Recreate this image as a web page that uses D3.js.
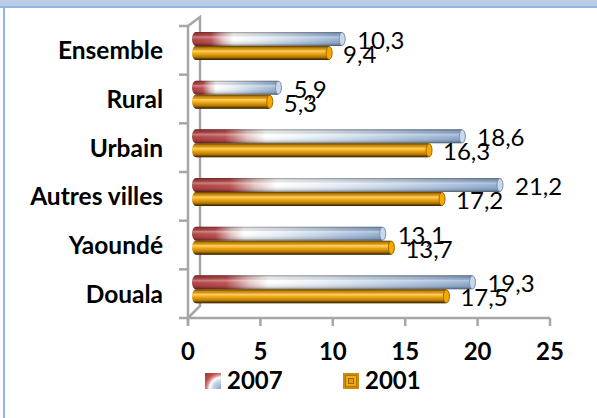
<!DOCTYPE html>
<html><head><meta charset="utf-8">
<script src="https://cdn.jsdelivr.net/npm/d3@7"></script>
<style>body{margin:0;background:#fff;}svg{display:block;}</style>
</head><body>
<script>
const categories = ["Ensemble","Rural","Urbain","Autres villes","Yaoundé","Douala"];
const series = ["2007","2001"];
const values2007 = [10.3,5.9,18.6,21.2,13.1,19.3];
const values2001 = [9.4,5.3,16.3,17.2,13.7,17.5];
const labels2007 = ["10,3","5,9","18,6","21,2","13,1","19,3"];
const labels2001 = ["9,4","5,3","16,3","17,2","13,7","17,5"];
const xTicks = [0,5,10,15,20,25];

const W=597,H=418;
const svg=d3.select("body").append("svg").attr("width",W).attr("height",H);
const defs=svg.append("defs");
const FONT="Lato, 'Open Sans', sans-serif";

// gradients
const g1=defs.append("linearGradient").attr("id","g2007").attr("x1",0).attr("x2",1).attr("y1",0).attr("y2",0);
[[0,"#a93a38"],[0.12,"#b9494a"],[0.2,"#e2c0c0"],[0.27,"#ffffff"],[0.45,"#e6eef7"],[1,"#88a6cc"]].forEach(d=>g1.append("stop").attr("offset",d[0]).attr("stop-color",d[1]));
const sh=defs.append("linearGradient").attr("id","shade").attr("x1",0).attr("x2",0).attr("y1",0).attr("y2",1);
[[0,"#000",0.4],[0.15,"#000",0.08],[0.35,"#fff",0.35],[0.55,"#fff",0.05],[0.85,"#000",0.15],[1,"#000",0.5]].forEach(d=>sh.append("stop").attr("offset",d[0]).attr("stop-color",d[1]).attr("stop-opacity",d[2]));
const g2=defs.append("linearGradient").attr("id","g2001").attr("x1",0).attr("x2",0).attr("y1",0).attr("y2",1);
[[0,"#a06800"],[0.15,"#dc9400"],[0.35,"#ffb618"],[0.55,"#eea000"],[0.8,"#c08000"],[1,"#634000"]].forEach(d=>g2.append("stop").attr("offset",d[0]).attr("stop-color",d[1]));
const lg=defs.append("radialGradient").attr("id","leg2007").attr("cx",1).attr("cy",1).attr("r",1.3).attr("fx",1).attr("fy",1);
[[0,"#7fa2cc"],[0.4,"#c9d9ec"],[0.55,"#ffffff"],[0.68,"#d88a88"],[0.8,"#c0504d"],[1,"#a33c3a"]].forEach(d=>lg.append("stop").attr("offset",d[0]).attr("stop-color",d[1]));

// frame
svg.append("rect").attr("x",0).attr("y",0).attr("width",W).attr("height",6).attr("fill","#b9cde5");
svg.append("rect").attr("x",0).attr("y",6).attr("width",W).attr("height",2).attr("fill","#8eb4e3");
svg.append("rect").attr("x",3).attr("y",6).attr("width",2).attr("height",H-6).attr("fill","#8eb4e3");

// scales
const x=d3.scaleLinear().domain([0,25]).range([188,550]);
const y=d3.scaleBand().domain(categories).range([26,318]).padding(0);
const depth=8;
const barH=14, barOff=6;

// axes lines
const axisCol="#a6a6a6";
const ax=svg.append("g").attr("stroke",axisCol).attr("stroke-width",2.5).attr("fill","none");
ax.append("path").attr("d",`M188,${y.range()[0]}L200,17L200,306L188,318`);
ax.append("line").attr("x1",188).attr("x2",188).attr("y1",26).attr("y2",326);
ax.append("line").attr("x1",188).attr("x2",x(25)).attr("y1",318).attr("y2",318);
const catTicks=categories.map(c=>y(c)).concat([318]);
catTicks.forEach(t=>ax.append("line").attr("x1",179).attr("x2",188).attr("y1",t).attr("y2",t));
xTicks.forEach(t=>ax.append("line").attr("x1",x(t)).attr("x2",x(t)).attr("y1",318).attr("y2",326));

// x tick labels
svg.append("g").selectAll("text").data(xTicks).join("text")
 .attr("x",d=>x(d)).attr("y",360).attr("text-anchor","middle")
 .attr("font-family",FONT).attr("font-weight","bold").attr("font-size",24).attr("fill","#000").text(d=>d);

// category labels
svg.append("g").selectAll("text").data(categories).join("text")
 .attr("x",163).attr("y",d=>y(d)+y.bandwidth()/2+9).attr("text-anchor","end")
 .attr("font-family",FONT).attr("font-weight","bold").attr("font-size",24.5).attr("fill","#000").text(d=>d);

// bars
function drawBar(g,x0,x1,yt,fill,capFill,capStroke){
  const w=x1-x0;
  g.append("rect").attr("x",x0).attr("y",yt).attr("width",w).attr("height",barH).attr("rx",4).attr("ry",barH/2).attr("fill",fill);
  g.append("rect").attr("x",x0).attr("y",yt).attr("width",w).attr("height",barH).attr("rx",4).attr("ry",barH/2).attr("fill","url(#shade)");
  g.append("ellipse").attr("cx",x1-3).attr("cy",yt+barH/2).attr("rx",3).attr("ry",barH/2-0.5).attr("fill",capFill).attr("stroke",capStroke).attr("stroke-width",1);
}
const bars=svg.append("g");
categories.forEach((c,i)=>{
  const top=y(c)+barOff;
  drawBar(bars,192,x(values2007[i])+depth,top,"url(#g2007)","#c9d8ea","#7d93ad");
  drawBar(bars,192,x(values2001[i])+depth,top+barH,"url(#g2001)","#f5a800","#a06a00");
});

// value labels
const vl=svg.append("g").attr("font-family",FONT).attr("font-size",24).attr("fill","#000");
categories.forEach((c,i)=>{
  const top=y(c)+barOff;
  vl.append("text").attr("x",x(values2007[i])+depth+12).attr("y",top+barH/2+10).text(labels2007[i]);
  vl.append("text").attr("x",x(values2001[i])+depth+11).attr("y",top+barH*1.5+10).text(labels2001[i]);
});

// legend
const leg=svg.append("g");
leg.append("rect").attr("x",205).attr("y",373).attr("width",16).attr("height",16).attr("fill","url(#leg2007)");
leg.append("text").attr("x",227).attr("y",389).attr("font-family",FONT).attr("font-weight","bold").attr("font-size",24).text(series[0]);
leg.append("rect").attr("x",343).attr("y",373).attr("width",16).attr("height",16).attr("fill","#c98a10");
leg.append("rect").attr("x",345.5).attr("y",375.5).attr("width",11).attr("height",11).attr("fill","#f2a818").attr("stroke","#b57400").attr("stroke-width",1);
leg.append("rect").attr("x",348.5).attr("y",378.5).attr("width",5).attr("height",5).attr("fill","#e09a10").attr("stroke","#a06800").attr("stroke-width",1);
leg.append("text").attr("x",365).attr("y",389).attr("font-family",FONT).attr("font-weight","bold").attr("font-size",24).text(series[1]);
</script>
</body></html>
